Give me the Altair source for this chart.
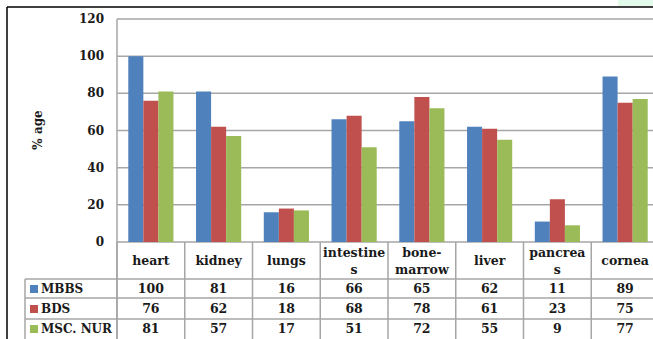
import altair as alt
import pandas as pd

# Organ categories and header text shown in the data table
categories = ["heart", "kidney", "lungs", "intestines", "bone-marrow", "liver", "pancreas", "cornea"]
header_labels = ["heart", "kidney", "lungs", "intestine\ns", "bone-\nmarrow", "liver", "pancrea\ns", "cornea"]

# Percentage per student group
series = ["MBBS", "BDS", "MSC. NUR"]
mbbs = [100, 81, 16, 66, 65, 62, 11, 89]
bds = [76, 62, 18, 68, 78, 61, 23, 75]
msc_nur = [81, 57, 17, 51, 72, 55, 9, 77]
colors = ["#4F81BD", "#C0504D", "#9BBB59"]

y_ticks = [0, 20, 40, 60, 80, 100, 120]

FONT = "DejaVu Serif"
GRID = "#a6a6a6"
INK = "#1a1a1a"

rows = []
for name, vals in zip(series, [mbbs, bds, msc_nur]):
    for cat, v in zip(categories, vals):
        rows.append({"category": cat, "series": name, "value": v})
df = pd.DataFrame(rows)

xs = alt.Scale(domain=categories, range=[117, 659], paddingInner=0, paddingOuter=0)
ys = alt.Scale(domain=[0, 120], range=[242, 19], nice=False, zero=True)
cs = alt.Scale(domain=series, range=colors)

ticks_df = pd.DataFrame({"v": y_ticks})
cat_df = pd.DataFrame({"category": categories, "label": header_labels})
cat_df["lines"] = cat_df["label"].str.count("\n") + 1
one = pd.DataFrame({"k": [0]})

# Horizontal gridlines across the plot area
grid = alt.Chart(ticks_df).mark_rule(color=GRID, strokeWidth=1.5).encode(
    y=alt.Y("v:Q", scale=ys, axis=None),
    x=alt.value(117),
    x2=alt.value(653),
)

# Y tick labels and title
ylabels = alt.Chart(ticks_df).mark_text(
    font=FONT, fontWeight="bold", fontSize=12, align="right", baseline="middle", color=INK
).encode(
    y=alt.Y("v:Q", scale=ys, axis=None),
    x=alt.value(104),
    text=alt.Text("v:Q"),
)

ytitle = alt.Chart(one).mark_text(
    text="% age", font=FONT, fontWeight="bold", fontSize=12, angle=270,
    align="center", baseline="middle", color=INK
).encode(x=alt.value(38), y=alt.value(130))

# Grouped bars
bars = alt.Chart(df).mark_bar().encode(
    x=alt.X("category:N", scale=xs, axis=None, sort=categories),
    xOffset=alt.XOffset("series:N", scale=alt.Scale(domain=series, paddingOuter=0.75, paddingInner=0)),
    y=alt.Y("value:Q", scale=ys, axis=None),
    y2=alt.value(242),
    color=alt.Color("series:N", scale=cs, legend=None),
)

# Data table grid
vsep = alt.Chart(cat_df).mark_rule(color=GRID, strokeWidth=1.5).encode(
    x=alt.X("category:N", scale=xs, axis=None, bandPosition=0),
    y=alt.value(242),
    y2=alt.value(339),
)
left_border = alt.Chart(one).mark_rule(color=GRID, strokeWidth=1.5).encode(
    x=alt.value(117), y=alt.value(19), y2=alt.value(339)
)
table_left = alt.Chart(one).mark_rule(color=GRID, strokeWidth=1.5).encode(
    x=alt.value(25), y=alt.value(279), y2=alt.value(339)
)
row_lines = [
    alt.Chart(one).mark_rule(color=GRID, strokeWidth=1.5).encode(
        y=alt.value(yy), x=alt.value(25), x2=alt.value(653)
    )
    for yy in [279, 298, 319]
]

# Column headers; wrapped labels start one half-line higher
header_layers = []
for n_lines, yy in [(1, 261), (2, 253)]:
    header_layers.append(
        alt.Chart(cat_df[cat_df["lines"] == n_lines]).mark_text(
            font=FONT, fontWeight="bold", fontSize=12.5, align="center", baseline="middle",
            lineBreak="\n", lineHeight=17, color=INK
        ).encode(
            x=alt.X("category:N", scale=xs, axis=None),
            y=alt.value(yy),
            text="label:N",
        )
    )

# Table rows: legend swatch, series name and values
row_y = [289, 309, 329]
table_layers = []
for name, col, yy in zip(series, colors, row_y):
    sub = df[df["series"] == name]
    table_layers.append(
        alt.Chart(sub).mark_text(
            font=FONT, fontWeight="bold", fontSize=12.5, align="center", baseline="middle", color=INK
        ).encode(
            x=alt.X("category:N", scale=xs, axis=None),
            y=alt.value(yy),
            text=alt.Text("value:Q"),
        )
    )
    table_layers.append(
        alt.Chart(pd.DataFrame({"series": [name]})).mark_rect(color=col).encode(
            x=alt.value(30), x2=alt.value(38), y=alt.value(yy - 4), y2=alt.value(yy + 4)
        )
    )
    table_layers.append(
        alt.Chart(pd.DataFrame({"series": [name]})).mark_text(
            font=FONT, fontWeight="bold", fontSize=12, align="left", baseline="middle", color=INK
        ).encode(x=alt.value(41), y=alt.value(yy), text="series:N")
    )

# Outer chart frame and corner tint
frame_top = alt.Chart(one).mark_rule(color="#000", strokeWidth=1.5).encode(
    x=alt.value(7), x2=alt.value(653), y=alt.value(7)
)
frame_left = alt.Chart(one).mark_rule(color="#000", strokeWidth=1.5).encode(
    x=alt.value(7), y=alt.value(7), y2=alt.value(339)
)
corner = alt.Chart(one).mark_rect(color="#e2fbea").encode(
    x=alt.value(618), x2=alt.value(653), y=alt.value(0), y2=alt.value(6)
)

chart = alt.layer(
    corner, grid, bars, vsep, left_border, table_left, *row_lines,
    ylabels, ytitle, *header_layers, *table_layers, frame_top, frame_left
).properties(
    width=653, height=339, padding=0, autosize="none", background="white"
).configure_view(stroke=None)

chart.save("out.html", embed_options={"renderer": "svg", "actions": False})
